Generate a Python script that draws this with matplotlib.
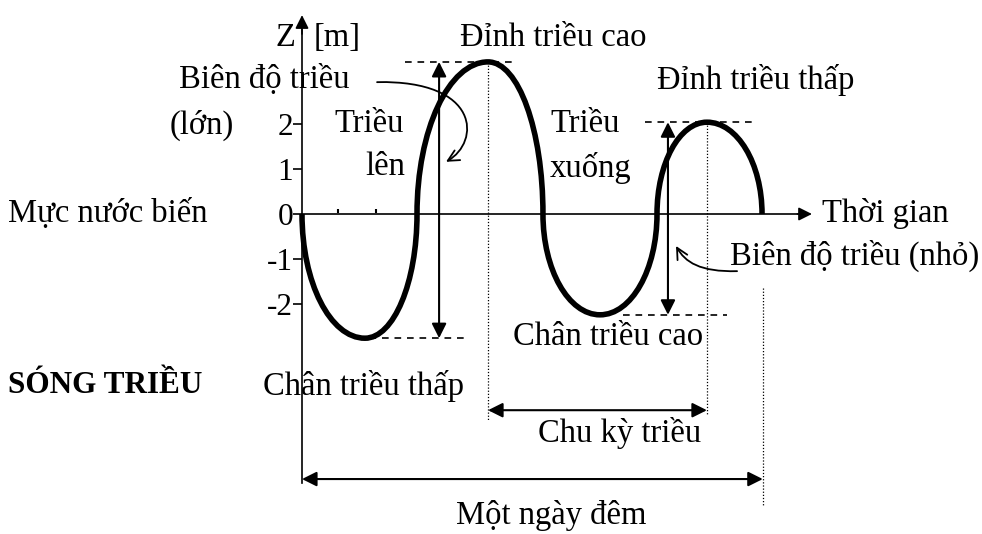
import numpy as np
import matplotlib.pyplot as plt
from matplotlib.path import Path
from matplotlib.patches import PathPatch, FancyArrowPatch

plt.rcParams['font.family'] = ['Liberation Serif', 'DejaVu Serif']

# tide curve key points: zero crossings and extremes (time in h, level in m)
t_key = [0, 3.28, 5.99, 9.69, 12.55, 15.52, 18.49, 21.09, 23.96]
z_key = [0, -2.76, 0, 3.38, 0, -2.24, 0, 2.04, 0]

z_ticks = [-2, -1, 0, 1, 2]
z_labels = ['-2', '-1', '0', '1', '2']

# little marks on the time axis
t_marks = [1.88, 3.85]

FS = 23.5

fig = plt.figure(figsize=(9.82, 5.34), dpi=100)
ax = fig.add_axes([0, 0, 1, 1])
ax.set_xlim(-302 / 19.2, 680 / 19.2)
ax.set_ylim(-320 / 45, 214 / 45)

# axes through the origin
ax.spines['top'].set_visible(False)
ax.spines['right'].set_visible(False)
ax.spines['left'].set_position(('data', 0))
ax.spines['bottom'].set_position(('data', 0))
ax.spines['left'].set_bounds(-5.98, 4.1)
ax.spines['bottom'].set_bounds(0, 26.0)
ax.spines['left'].set_linewidth(1.2)
ax.spines['bottom'].set_linewidth(1.2)
ax.set_xticks([])
ax.set_yticks(z_ticks, z_labels)
ax.tick_params(axis='y', direction='out', length=6.5, width=1.2, pad=0,
               labelsize=22.5)
ax.patch.set_visible(False)


def arrow(x0, y0, x1, y1, style='<|-|>', lw=1.5, ms=22):
    ax.annotate('', xy=(x1, y1), xytext=(x0, y0),
                arrowprops=dict(arrowstyle=style, color='k', lw=lw,
                                mutation_scale=ms, shrinkA=0, shrinkB=0),
                annotation_clip=False)


arrow(0, 4.0, 0, 4.42, '-|>', 1.2, 20)
arrow(25.8, 0, 26.56, 0, '-|>', 1.2, 20)
ax.plot(t_marks, [0.07] * len(t_marks), 'k|', ms=3, mew=1.5)

# tide curve built from quarter-ellipse like bezier segments
k = 0.5523
verts = [(t_key[0], z_key[0])]
codes = [Path.MOVETO]
for i in range(len(t_key) - 1):
    t0, z0, t1, z1 = t_key[i], z_key[i], t_key[i + 1], z_key[i + 1]
    if z0 == 0:
        c1 = (t0, k * z1)
        c2 = (t1 - k * (t1 - t0), z1)
    else:
        c1 = (t0 + k * (t1 - t0), z0)
        c2 = (t1, k * z0)
    verts += [c1, c2, (t1, z1)]
    codes += [Path.CURVE4] * 3
ax.add_patch(PathPatch(Path(verts, codes), fill=False, lw=4.0,
                       capstyle='butt', color='k', zorder=3))

# dashed levels at the extremes
dash = dict(color='k', lw=1.2, ls=(0, (4, 3.5)))
ax.plot([5.36, 11.2], [z_key[3]] * 2, **dash)
ax.plot([17.86, 23.59], [z_key[7]] * 2, **dash)
ax.plot([16.72, 22.14], [z_key[5]] * 2, **dash)
ax.plot([2.86, 8.59], [z_key[1]] * 2, **dash)

# dotted verticals
dot = dict(color='k', lw=0.9, ls=(0, (1, 1.5)))
ax.plot([t_key[3], t_key[3]], [z_key[3], -4.58], **dot)
ax.plot([t_key[7], t_key[7]], [z_key[7], -4.47], **dot)
ax.plot([24.0, 24.0], [-1.64, -6.47], **dot)

# ranges
arrow(7.14, z_key[3], 7.14, z_key[1])
arrow(19.06, z_key[7], 19.06, z_key[5])
arrow(t_key[3], -4.36, t_key[7], -4.36)
arrow(0, -5.89, 24.0, -5.89)

# curved pointers
for pts in ([(3.91, 2.93), (9.3, 2.98), (9.3, 1.6), (7.5, 1.16)],
            [(22.66, -1.27), (20.73, -1.29), (19.95, -1.07), (19.48, -0.71)]):
    p = Path(pts, [Path.MOVETO, Path.CURVE4, Path.CURVE4, Path.CURVE4])
    ax.add_patch(FancyArrowPatch(path=p, arrowstyle='->', color='k', lw=1.3,
                                 mutation_scale=20))

# labels
txt = dict(fontsize=FS, va='center')
ax.text(-0.85, 3.91, 'Z', ha='center', **txt)
ax.text(1.85, 3.91, '[m]', ha='center', **txt)
ax.text(13.07, 3.91, 'Đỉnh triều cao', ha='center', **txt)
ax.text(2.5, 2.98, 'Biên độ triều', ha='right', **txt)
ax.text(-6.875, 1.98, '(lớn)', ha='left', **txt)
ax.text(3.49, 2.0, 'Triều', ha='center', **txt)
ax.text(4.32, 1.04, 'lên', ha='center', **txt)
ax.text(23.65, 2.98, 'Đỉnh triều thấp', ha='center', **txt)
ax.text(14.74, 2.0, 'Triều', ha='center', **txt)
ax.text(15.05, 1.02, 'xuống', ha='center', **txt)
ax.text(-15.31, 0.02, 'Mực nước biến', ha='left', **txt)
ax.text(27.08, 0.02, 'Thời gian', ha='left', **txt)
ax.text(22.29, -0.93, 'Biên độ triều (nhỏ)', ha='left', **txt)
ax.text(15.94, -2.73, 'Chân triều cao', ha='center', **txt)
ax.text(-15.31, -3.82, 'SÓNG TRIỀU', ha='left', fontweight='bold',
        fontsize=22.5, va='center')
ax.text(-2.03, -3.82, 'Chân triều thấp', ha='left', **txt)
ax.text(16.56, -4.87, 'Chu kỳ triều', ha='center', **txt)
ax.text(12.97, -6.7, 'Một ngày đêm', ha='center', **txt)

fig.savefig('out.png', dpi=100)
